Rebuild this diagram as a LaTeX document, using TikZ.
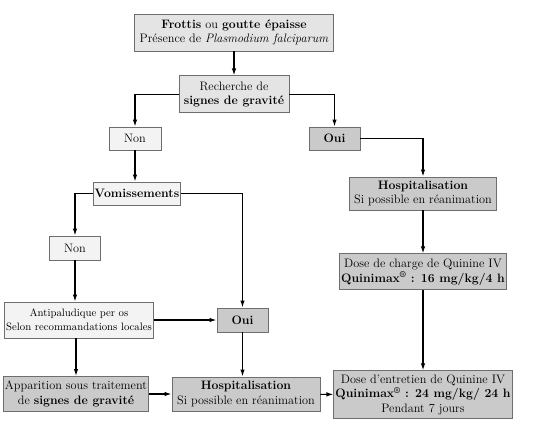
\documentclass[tikz,border=0pt]{standalone}
\usepackage{xcolor}
\usepackage{tikz}
\usetikzlibrary{arrows.meta, positioning, calc}

\definecolor{boxline}{HTML}{6E6E6E}
\definecolor{palefill}{HTML}{F3F3F3}
\definecolor{lightfill}{HTML}{E4E4E4}
\definecolor{darkfill}{HTML}{CACACA}

\begin{document}
\begin{tikzpicture}[
	  x=1bp, y=1bp,
	  font=\fontsize{12.3}{14.8}\selectfont,
	  box/.style={
	    draw=boxline,
	    line width=0.9bp,
	    align=center,
	    inner sep=1.5bp
	  },
	  pale/.style={box, fill=palefill},
	  light/.style={box, fill=lightfill},
	  dark/.style={box, fill=darkfill},
	  arrow/.style={-{Latex[length=7bp,width=4.5bp]}, line width=1.2bp}
	]
	
	\useasboundingbox (0,0) rectangle (540,-422);
	
	\node[light, minimum width=199bp, minimum height=37bp] (frottis) at (234,-32.5)
	  {\textbf{Frottis} ou \textbf{goutte épaisse}\\Présence de \textit{Plasmodium falciparum}};
	\node[light, minimum width=110bp, minimum height=37bp, below=24bp of frottis] (recherche)
	  {Recherche de\\\textbf{signes de gravité}};
	\node[pale, minimum width=52bp, minimum height=23bp] (non) at (135,-138.5) {Non};
	\node[dark, minimum width=51bp, minimum height=23bp] (oui) at (334.5,-138.5) {\textbf{Oui}};
	\node[dark, minimum width=147bp, minimum height=33bp] (hospA) at (423,-193.5)
	  {\textbf{Hospitalisation}\\Si possible en réanimation};
	\node[dark, minimum width=167bp, minimum height=36bp, below=43bp of hospA] (charge)
	  {Dose de charge de Quinine IV\\\textbf{Quinimax\textsuperscript{\textregistered}\ : 16 mg/kg/4 h}};
	\node[dark, minimum width=178bp, minimum height=48bp, below=80bp of charge] (entretien)
	  {Dose d'entretien de Quinine IV\\\textbf{Quinimax\textsuperscript{\textregistered}\ : 24 mg/kg/ 24 h}\\Pendant 7 jours};
	
	\node[pale, minimum width=86bp, minimum height=23bp] (vomis) at (137,-193.5) {\textbf{Vomissements}};
	\node[pale, minimum width=51bp, minimum height=24bp] (non2) at (75,-248) {Non};
	\node[pale, minimum width=145bp, minimum height=36bp, font=\fontsize{10.8}{14}\selectfont] (antipal) at (79,-320)
	  {Antipaludique per os\\Selon recommandations locales};
	\node[dark, minimum width=51bp, minimum height=24bp] (oui2) at (242.5,-320) {\textbf{Oui}};
	\node[dark, minimum width=142bp, minimum height=35bp] (apparition) at (76,-394)
	  {Apparition sous traitement\\de \textbf{signes de gravité}};
	\node[dark, minimum width=148bp, minimum height=34bp] (hospB) at (246,-394)
	  {\textbf{Hospitalisation}\\Si possible en réanimation};
	
	\draw[arrow] (frottis) -- (recherche);
	\draw[arrow] (recherche.west) -| (non);
	\draw[arrow] (recherche.east) -| (oui);
	\draw[arrow] (oui.east) -| (hospA);
	\draw[arrow] (hospA) -- (charge);
	\draw[arrow] (charge) -- (entretien);
	
	\draw[arrow] (non.south) -- (non.south |- vomis.north);
	\draw[arrow] (vomis.west) -| (non2);
	\draw[arrow] (vomis.east) -| (oui2);
	\draw[arrow] (non2.south) -- (non2.south |- antipal.north);
	\draw[arrow] (antipal) -- (oui2);
	\draw[arrow] (apparition.north |- antipal.south) -- (apparition);
	\draw[arrow] (oui2.south) -- (oui2.south |- hospB.north);
	\draw[arrow] (apparition) -- (hospB);
	\draw[arrow] (hospB) -- (entretien);
	
	\end{tikzpicture}
\end{document}
